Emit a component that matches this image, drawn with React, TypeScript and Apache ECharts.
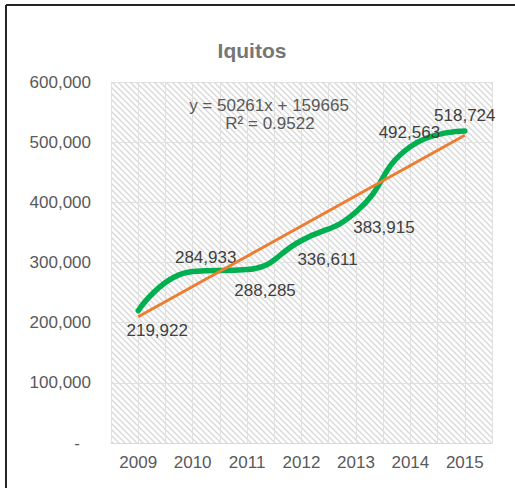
import React, { useEffect, useRef } from "react";
import * as echarts from "echarts";

const years = ["2009", "2010", "2011", "2012", "2013", "2014", "2015"];
const population = [219922, 284933, 288285, 336611, 383915, 492563, 518724];
// linear trendline values read from the shown equation y = 50261x + 159665
const trendValues = [209926, 260187, 310448, 360709, 410970, 461231, 511492];
const equationText = "y = 50261x + 159665";
const r2Text = "R² = 0.9522";
const titleText = "Iquitos";

const labelOffsets: [number, number][] = [
  [19, 20],
  [13, -14],
  [18, 21],
  [26, 19],
  [28, 15],
  [-1, -14],
  [0, -15],
];

const FONT = "'Liberation Sans', Arial, sans-serif";

const hatchSvg =
  "<svg xmlns='http://www.w3.org/2000/svg' width='6' height='6'>" +
  "<rect width='6' height='6' fill='#ffffff'/>" +
  "<path d='M-1,-1 L7,7 M-1,5 L1,7 M5,-1 L7,1' stroke='#d9d9d9' stroke-width='1.4' fill='none'/>" +
  "</svg>";
const hatchUrl = "data:image/svg+xml;charset=utf-8," + encodeURIComponent(hatchSvg);

export default function App() {
  const ref = useRef<HTMLDivElement>(null);

  useEffect(() => {
    if (!ref.current) return;
    const chart = echarts.init(ref.current, null, { renderer: "svg" });
    const option: any = {
      animation: false,
      backgroundColor: "#ffffff",
      grid: {
        left: 111,
        right: 23,
        top: 82,
        bottom: 45,
        show: true,
        borderWidth: 0,
        backgroundColor: {
          image: hatchUrl,
          repeat: "repeat",
          imageWidth: 6,
          imageHeight: 6,
        },
      },
      graphic: [
        {
          type: "line",
          shape: { x1: 6, y1: 5, x2: 6, y2: 488 },
          style: { stroke: "#262626", lineWidth: 2 },
        },
        {
          type: "line",
          shape: { x1: 6, y1: 5, x2: 515, y2: 5 },
          style: { stroke: "#262626", lineWidth: 2 },
        },
        {
          type: "text",
          x: 252,
          y: 50,
          style: {
            text: titleText,
            font: `bold 21px ${FONT}`,
            fill: "#767676",
            textAlign: "center",
            textVerticalAlign: "middle",
          },
        },
        {
          type: "text",
          x: 269,
          y: 105,
          z: 10,
          style: {
            text: equationText,
            font: `17px ${FONT}`,
            fill: "#595959",
            textAlign: "center",
            textVerticalAlign: "middle",
          },
        },
        {
          type: "text",
          x: 270,
          y: 123,
          z: 10,
          style: {
            text: r2Text,
            font: `17px ${FONT}`,
            fill: "#595959",
            textAlign: "center",
            textVerticalAlign: "middle",
          },
        },
      ],
      xAxis: [
        {
          type: "category",
          data: years,
          boundaryGap: true,
          axisLine: { show: true, lineStyle: { color: "#d9d9d9", width: 1 } },
          axisTick: { show: false },
          axisLabel: {
            color: "#595959",
            fontSize: 17,
            fontFamily: FONT,
            margin: 11,
          },
          splitLine: { show: false },
        },
        {
          type: "value",
          min: 0,
          max: 14,
          interval: 1,
          position: "top",
          axisLine: { show: false },
          axisTick: { show: false },
          axisLabel: { show: false },
          splitLine: { show: true, lineStyle: { color: "#e0e0e0", width: 1 } },
        },
      ],
      yAxis: {
        type: "value",
        min: 0,
        max: 600000,
        interval: 100000,
        axisLine: { show: false },
        axisTick: { show: false },
        axisLabel: {
          color: "#595959",
          fontSize: 17,
          fontFamily: FONT,
          margin: 20,
          formatter: (v: number) =>
            v === 0 ? "{d|-}" : v.toLocaleString("en-US"),
          rich: {
            d: {
              color: "#595959",
              fontSize: 17,
              fontFamily: FONT,
              padding: [0, 11, 0, 0],
            },
          },
        },
        splitLine: { show: true, lineStyle: { color: "#e0e0e0", width: 1 } },
      },
      series: [
        {
          type: "line",
          name: "Población",
          xAxisIndex: 0,
          data: population.map((v, i) => ({
            value: v,
            label: { offset: labelOffsets[i] },
          })),
          smooth: 0.5,
          symbol: "circle",
          symbolSize: 1,
          showSymbol: true,
          itemStyle: { color: "#00B050" },
          lineStyle: { color: "#00B050", width: 5.5, cap: "round" },
          label: {
            show: true,
            position: "inside",
            color: "#404040",
            fontSize: 17,
            fontFamily: FONT,
            formatter: (p: any) => Number(p.value).toLocaleString("en-US"),
          },
          z: 3,
        },
        {
          type: "line",
          name: "Lineal",
          xAxisIndex: 0,
          data: trendValues,
          symbol: "none",
          lineStyle: { color: "#ED7D31", width: 3 },
          z: 4,
        },
      ],
    };
    chart.setOption(option);
    return () => chart.dispose();
  }, []);

  return (
    <div
      ref={ref}
      style={{
        position: "absolute",
        left: 0,
        top: 0,
        width: 515,
        height: 488,
        background: "#fff",
      }}
    />
  );
}
